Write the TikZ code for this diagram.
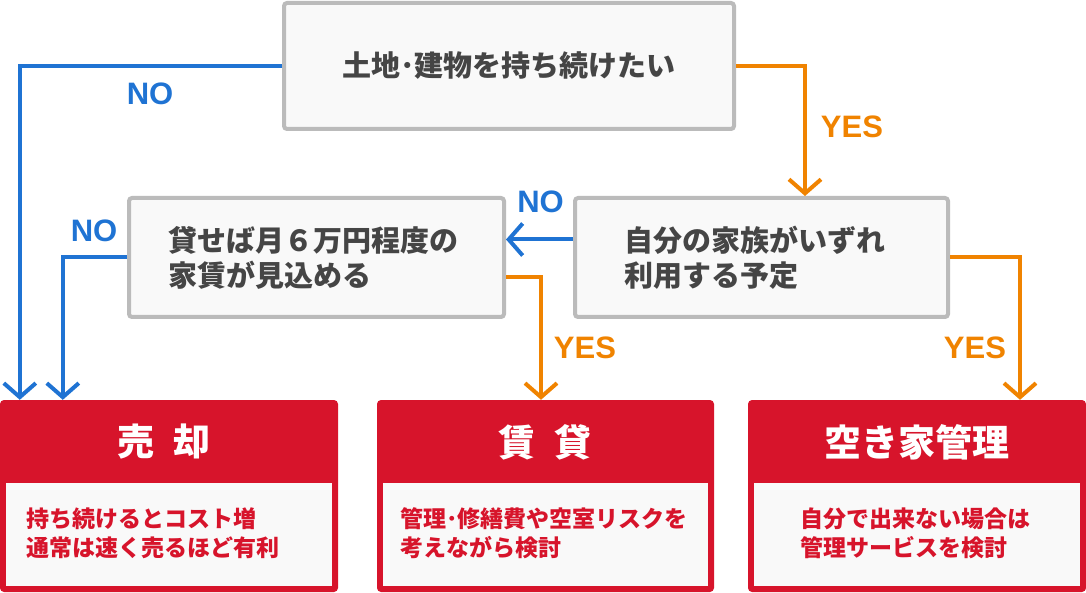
\documentclass[tikz,border=0pt]{standalone}
\usepackage{fontspec}
\newfontfamily\jpfont{Noto Sans CJK JP}[BoldFont={Noto Sans CJK JP Black}]
\newfontfamily\latfont{Liberation Sans}
\usepackage{xcolor}
\usetikzlibrary{arrows.meta}
\definecolor{flowred}{HTML}{D7142B}
\definecolor{flowblue}{HTML}{1F73D3}
\definecolor{floworange}{HTML}{F08300}
\definecolor{boxgray}{HTML}{BBBBBB}
\definecolor{boxfill}{HTML}{F9F9F9}
\definecolor{txtgray}{HTML}{454545}

\begin{document}
\begin{tikzpicture}[x=1pt, y=-1pt,
		qbox/.style={draw=boxgray, line width=4pt, fill=boxfill, rounded corners=3pt, inner sep=0pt},
		qtext/.style={text=txtgray, align=left, inner sep=0pt, font=\jpfont\bfseries\fontsize{29}{35}\selectfont},
		ansbox/.style={fill=flowred, rounded corners=4pt, minimum height=192pt, inner sep=0pt},
		ansin/.style={fill=boxfill, minimum width=326pt, minimum height=103pt, inner sep=0pt},
		anstitle/.style={text=white, inner sep=0pt, font=\jpfont\bfseries\fontsize{37}{40}\selectfont},
		anstext/.style={text=flowred, align=left, anchor=west, inner sep=0pt, font=\jpfont\bfseries\fontsize{23}{29}\selectfont},
		noline/.style={draw=flowblue, line width=4pt, -{Straight Barb[length=14pt,width=32pt]}},
		yesline/.style={draw=floworange, line width=4pt, -{Straight Barb[length=14pt,width=32pt]}},
		nolabel/.style={text=flowblue, inner sep=0pt, font=\latfont\bfseries\fontsize{31}{31}\selectfont},
		yeslabel/.style={text=floworange, inner sep=0pt, font=\latfont\bfseries\fontsize{31}{31}\selectfont}]
	\useasboundingbox (0,0) rectangle (1086,593);
	% questions
	\node[qbox, qtext, minimum width=450pt, minimum height=126pt] (keep) at (509,66) {土地･建物を持ち続けたい};
	\node[qbox, minimum width=375pt, minimum height=119pt] (rent6) at (316.5,257.5) {};
	\node[qbox, minimum width=373pt, minimum height=119pt] (family) at (761.5,257.5) {};
	\node[qtext, anchor=west] (rent6txt) at (168,257.5) {貸せば月６万円程度の\\家賃が見込める};
	\node[qtext, anchor=west] (familytxt) at (624,257.5) {自分の家族がいずれ\\利用する予定};
	% answers
	\node[ansbox, minimum width=338pt] (sell) at (169,496) {};
	\node[ansbox, minimum width=337pt] (rent) at (545.5,496) {};
	\node[ansbox, minimum width=338pt] (vacant) at (917,496) {};
	\node[ansin] (sellin) at (169,534.5) {};
	\node[ansin, minimum width=325pt] (rentin) at (545.5,534.5) {};
	\node[ansin] (vacantin) at (917,534.5) {};
	\node[anstitle] (selltitle) at (164,442) {売\hspace{.5em}却};
	\node[anstitle] (renttitle) at (545,442) {賃\hspace{.5em}貸};
	\node[anstitle] (vacanttitle) at (917,442) {空き家管理};
	\node[anstext] (selltxt) at (26,533.5) {持ち続けるとコスト増\\通常は速く売るほど有利};
	\node[anstext] (renttxt) at (400,533.5) {管理･修繕費や空室リスクを\\考えながら検討};
	\node[anstext] (vacanttxt) at (800,533.5) {自分で出来ない場合は\\管理サービスを検討};
	% connectors
	\draw[noline] (keep.west) -| ([xshift=20pt]sell.north west);
	\draw[yesline] (keep.east) -| ([xshift=43.5pt]family.north);
	\draw[noline] ([yshift=18pt]family.west) -- ([yshift=18pt]rent6.east);
	\draw[noline] (rent6.west) -| ([xshift=63pt]sell.north west);
	\draw[yesline] ([yshift=-20pt]rent6.east) -| ([xshift=-4.5pt]rent.north);
	\draw[yesline] (family.east) -| ([xshift=103pt]vacant.north);
	% labels
	\node[nolabel] (no1) at (150,94) {NO};
	\node[yeslabel] (yes1) at (852,127) {YES};
	\node[nolabel] (no2) at (540.5,202) {NO};
	\node[nolabel] (no3) at (94,230.5) {NO};
	\node[yeslabel] (yes2) at (585,348) {YES};
	\node[yeslabel] (yes3) at (975,348) {YES};
\end{tikzpicture}
\end{document}
